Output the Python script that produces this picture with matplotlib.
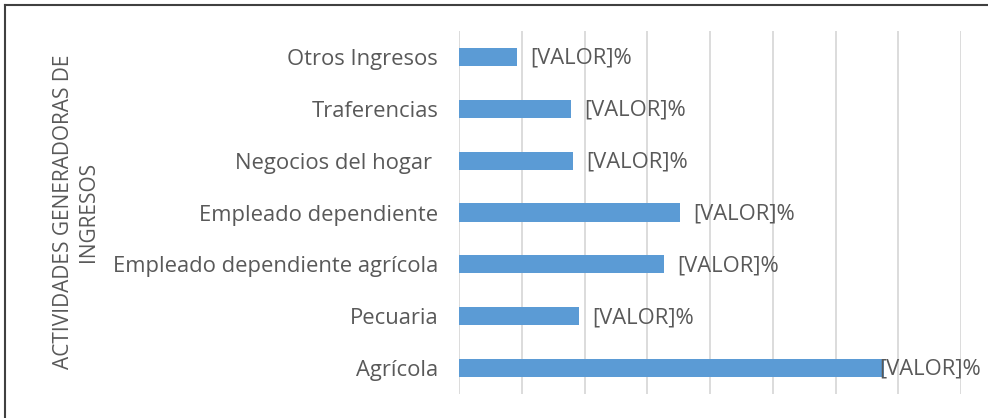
import matplotlib
matplotlib.use("Agg")
import matplotlib.pyplot as plt
from matplotlib.lines import Line2D

# data (top to bottom in the picture)
categories = ["Otros Ingresos", "Traferencias", "Negocios del hogar ",
              "Empleado dependiente", "Empleado dependiente agrícola",
              "Pecuaria", "Agrícola"]
values = [4.6, 8.9, 9.1, 17.6, 16.3, 9.6, 33.9]
value_labels = ["[VALOR]%"] * len(categories)
y_title = "ACTIVIDADES GENERADORAS DE\nINGRESOS"

bar_color = "#5b9bd5"
text_color = "#595959"
grid_color = "#d9d9d9"

plt.rcParams['font.family'] = ['Open Sans', 'DejaVu Sans']
fs = 15.8

fig = plt.figure(figsize=(9.88, 4.18), dpi=100)
ax = fig.add_axes([459 / 988, 1 - 394 / 418, 502 / 988, 363 / 418])

pos = list(range(len(categories)))[::-1]
ax.barh(pos, values, height=0.35, color=bar_color, zorder=2)

ax.set_xlim(0, 40)
ax.set_ylim(-0.5, len(categories) - 0.5)
ax.set_xticks(range(0, 41, 5))
ax.set_xticklabels([])
ax.tick_params(axis='x', length=0)
ax.tick_params(axis='y', length=0, pad=15, labelsize=fs, labelcolor=text_color)
ax.set_yticks(pos)
ax.set_yticklabels(categories)
ax.grid(axis='x', color=grid_color, linewidth=1.3, zorder=0)
for s in ax.spines.values():
    s.set_visible(False)

# data labels, the last one is pushed back to stay inside the chart
for p, v, lab in zip(pos, values, value_labels):
    dx = 9.5 if v < 30 else -3.5
    ax.annotate(lab, xy=(v, p), xytext=(dx, -1), textcoords='offset points',
                ha='left', va='center', fontsize=fs, color=text_color,
                annotation_clip=False, zorder=3)

fig.text(76 / 988, 0.493, y_title, rotation=90, ha='center', va='center',
         fontsize=15, color=text_color, linespacing=1.3)

# chart frame (only top and left edges are in view)
fig.add_artist(Line2D([5 / 988, 1.0], [1 - 5 / 418, 1 - 5 / 418],
                      transform=fig.transFigure, color="#404040", linewidth=1.5))
fig.add_artist(Line2D([5 / 988, 5 / 988], [0, 1 - 5 / 418],
                      transform=fig.transFigure, color="#404040", linewidth=1.5))

fig.savefig("out.png", dpi=100)
